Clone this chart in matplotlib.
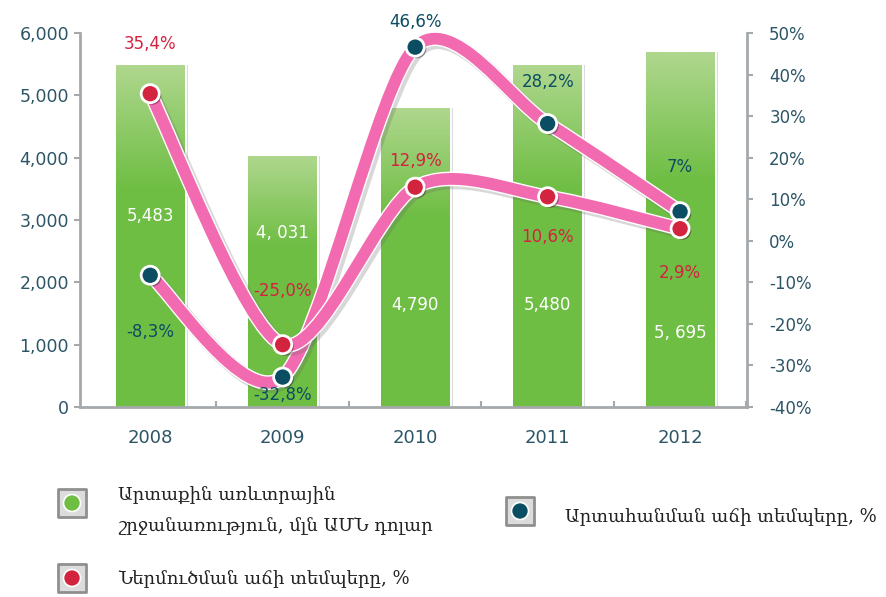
import numpy as np
import matplotlib
matplotlib.use("Agg")
import matplotlib.pyplot as plt
from matplotlib.path import Path
from matplotlib.patches import PathPatch
from matplotlib.colors import LinearSegmentedColormap
import matplotlib.patheffects as pe

# data
years = ["2008", "2009", "2010", "2011", "2012"]
trade = [5483, 4031, 4790, 5480, 5695]          # mln USD
export_growth = [-8.3, -32.8, 46.6, 28.2, 7.0]  # %
import_growth = [35.4, -25.0, 12.9, 10.6, 2.9]  # %
trade_labels = ["5,483", "4, 031", "4,790", "5,480", "5, 695"]
export_labels = ["-8,3%", "-32,8%", "46,6%", "28,2%", "7%"]
import_labels = ["35,4%", "-25,0%", "12,9%", "10,6%", "2,9%"]
left_ticks = [0, 1000, 2000, 3000, 4000, 5000, 6000]
right_ticks = [-40, -30, -20, -10, 0, 10, 20, 30, 40, 50]

legend_trade = "Արտաքին առևտրային\nշրջանառություն, մլն ԱՄՆ դոլար"
legend_export = "Արտահանման աճի տեմպերը, %"
legend_import = "Ներմուծման աճի տեմպերը, %"

GREEN = "#6fbe44"
GREEN_LIGHT = "#afd78e"
PINK = "#f26bb0"
RED = "#d2233f"
TEAL = "#0b4d63"
TXT = "#2c5566"
AXC = "#a6a9ab"

fig = plt.figure(figsize=(8.87, 5.97), dpi=100)
ax = fig.add_axes([80/887, 1-407/597, (747-80)/887, (407-33)/597])
ax2 = ax.twinx()

x = np.arange(len(years))
bw = 0.52

# bars with a vertical gradient
cmap = LinearSegmentedColormap.from_list("g", [(0, GREEN), (0.64, GREEN), (1, GREEN_LIGHT)])
grad = np.linspace(0, 1, 256).reshape(-1, 1)
bars = ax.bar(x, trade, bw, color=GREEN, edgecolor="white", linewidth=2.0, zorder=2)
for b in bars:
    sh = plt.Rectangle((b.get_x() + 0.025, 0), b.get_width(), b.get_height(),
                       facecolor="#888888", alpha=0.3, edgecolor="none", zorder=1)
    ax.add_patch(sh)
    im = ax.imshow(grad, cmap=cmap, aspect="auto", origin="lower",
                   extent=[b.get_x(), b.get_x() + b.get_width(), 0, b.get_height()], zorder=2.5)
    im.set_clip_path(b)

lab_y = [3070, 2790, 1640, 1640, 1190]
for i, t in enumerate(trade_labels):
    ax.text(x[i], lab_y[i], t, color="white", ha="center", va="center", fontsize=12, zorder=3)

ax.set_xlim(-0.53, 4.505)
ax.set_ylim(0, 6000)
ax2.set_ylim(-40, 50)
ax.set_yticks(left_ticks)
ax.set_yticklabels([f"{v:,}" for v in left_ticks])
ax2.set_yticks(right_ticks)
ax2.set_yticklabels([f"{v}%" for v in right_ticks])
ax.set_xticks(x)
ax.set_xticklabels(years)
ax.set_xticks(list(x[:-1] + 0.5) + [4.5], minor=True)

for a in (ax, ax2):
    for s in a.spines.values():
        s.set_visible(False)
ax.spines["left"].set_visible(True)
ax.spines["bottom"].set_visible(True)
ax2.spines["right"].set_visible(True)
for s in (ax.spines["left"], ax.spines["bottom"], ax2.spines["right"]):
    s.set_color(AXC)
    s.set_linewidth(2.0)

ax.tick_params(axis="y", colors=AXC, labelcolor=TXT, labelsize=12.5, length=4, width=1.5, pad=4)
ax.tick_params(axis="x", which="major", length=0, labelcolor=TXT, labelsize=13, pad=16)
ax.tick_params(axis="x", which="minor", length=4, width=1.5, colors=AXC, direction="in")
ax2.tick_params(axis="y", colors=AXC, labelcolor=TXT, labelsize=12, length=4, width=1.5, pad=12)


def smooth_path(xs, ys, k=0.85):
    # Catmull-Rom style bezier through the data points
    pts = np.column_stack([xs, ys]).astype(float)
    n = len(pts)
    verts = [pts[0]]
    codes = [Path.MOVETO]
    for i in range(n - 1):
        p0 = pts[i - 1] if i > 0 else pts[i]
        p1 = pts[i]
        p2 = pts[i + 1]
        p3 = pts[i + 2] if i + 2 < n else pts[i + 1]
        c1 = p1 + (p2 - p0) / 6 * k
        c2 = p2 - (p3 - p1) / 6 * k
        verts += [c1, c2, p2]
        codes += [Path.CURVE4] * 3
    return Path(verts, codes)


effects = [pe.SimpleLineShadow(offset=(2, -2), shadow_color="#666666", alpha=0.25, linewidth=11),
           pe.Stroke(linewidth=10.5, foreground="white"),
           pe.Normal()]
for series in (export_growth, import_growth):
    patch = PathPatch(smooth_path(x, series), facecolor="none", edgecolor=PINK,
                      linewidth=8.5, capstyle="round", joinstyle="round", zorder=4, clip_on=False)
    patch.set_path_effects(effects)
    ax2.add_patch(patch)

ax2.scatter(x, export_growth, s=170, color=TEAL, edgecolor="white", linewidth=2, zorder=5,
            clip_on=False, path_effects=[pe.withSimplePatchShadow(offset=(1.5, -1.5), alpha=0.4)])
ax2.scatter(x, import_growth, s=170, color=RED, edgecolor="white", linewidth=2, zorder=5,
            clip_on=False, path_effects=[pe.withSimplePatchShadow(offset=(1.5, -1.5), alpha=0.4)])

# percent labels, offset in points from the markers
exp_off = [-41, -13, 18, 30, 32]
imp_off = [36, 39, 19, -29, -32]
for i in range(len(years)):
    ax2.annotate(export_labels[i], (x[i], export_growth[i]), xytext=(0, exp_off[i]),
                 textcoords="offset points", ha="center", va="center", color=TEAL,
                 fontsize=12, zorder=6)
    ax2.annotate(import_labels[i], (x[i], import_growth[i]), xytext=(0, imp_off[i]),
                 textcoords="offset points", ha="center", va="center", color=RED,
                 fontsize=12, zorder=6)

# legend, drawn on an overlay axes in pixel coordinates
lax = fig.add_axes([0, 0, 1, 1], facecolor="none")
lax.set_xlim(0, 887)
lax.set_ylim(597, 0)
lax.axis("off")
leg_x = [72, 72, 520]
leg_y = [503, 578, 511]
leg_c = [GREEN, RED, TEAL]
lax.scatter(leg_x, leg_y, marker="s", s=400, color="#dcdcdc", edgecolor="#8f8f8f", linewidth=2)
lax.scatter(leg_x, leg_y, marker="o", s=150, color=leg_c, edgecolor="white", linewidth=1.2)

font_leg = ["DejaVu Serif", "DejaVu Sans"]
lax.text(118, 511, legend_trade, family=font_leg, fontsize=13, va="center", ha="left",
         color="#222222", linespacing=1.8)
lax.text(118, 578, legend_import, family=font_leg, fontsize=13, va="center", ha="left",
         color="#222222")
lax.text(565, 516, legend_export, family=font_leg, fontsize=13, va="center", ha="left",
         color="#222222")

fig.savefig("out.png", dpi=100)
